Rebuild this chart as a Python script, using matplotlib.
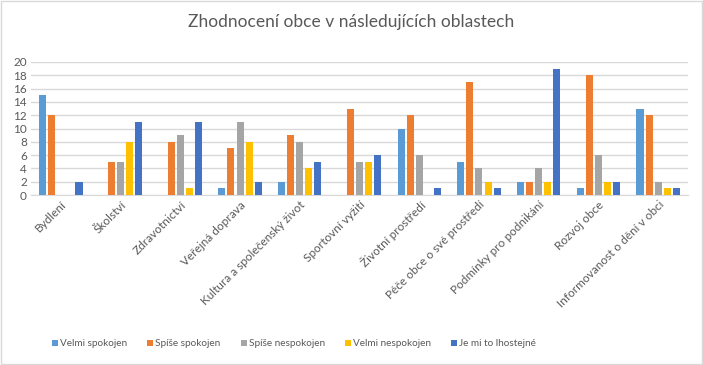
import numpy as np
import matplotlib.pyplot as plt

plt.rcParams["font.family"] = ["Lato", "DejaVu Sans"]

categories = [
    "Bydlení", "Školství", "Zdravotnictví", "Veřejná doprava",
    "Kultura a společenský život", "Sportovní vyžití", "Životní prostředí",
    "Péče obce o své prostředí", "Podmínky pro podnikání", "Rozvoj obce",
    "Informovanost o dění v obci",
]
series_names = ["Velmi spokojen", "Spíše spokojen", "Spíše nespokojen",
                "Velmi nespokojen", "Je mi to lhostejné"]
velmi_spokojen = [15, 0, 0, 1, 2, 0, 10, 5, 2, 1, 13]
spise_spokojen = [12, 5, 8, 7, 9, 13, 12, 17, 2, 18, 12]
spise_nespokojen = [0, 5, 9, 11, 8, 5, 6, 4, 4, 6, 2]
velmi_nespokojen = [0, 8, 1, 8, 4, 5, 0, 2, 2, 2, 1]
lhostejne = [2, 11, 11, 2, 5, 6, 1, 1, 19, 2, 1]

colors = ["#5B9BD5", "#ED7D31", "#A5A5A5", "#FFC000", "#4472C4"]
text_col = "#595959"

fig = plt.figure(figsize=(7.03, 3.65), dpi=100)
ax = fig.add_axes([31 / 703, 1 - 195 / 365, 657 / 703, 133 / 365])

x = np.arange(len(categories))
step = 0.152
width = 0.118
data = [velmi_spokojen, spise_spokojen, spise_nespokojen, velmi_nespokojen, lhostejne]
for i, (name, vals) in enumerate(zip(series_names, data)):
    ax.bar(x + (i - 2) * step, vals, width, color=colors[i], label=name, zorder=3)

ax.set_xlim(-0.5, len(categories) - 0.5)
ax.set_ylim(0, 20)
ax.set_yticks(range(0, 21, 2))
ax.yaxis.grid(True, color="#D9D9D9", linewidth=1, zorder=0)
for s in ["top", "right", "left"]:
    ax.spines[s].set_visible(False)
ax.spines["bottom"].set_color("#D9D9D9")
ax.tick_params(axis="both", length=0, labelsize=8.5, colors=text_col, pad=3)
ax.set_xticks(x)
ax.set_xticklabels(categories, rotation=45, ha="right", rotation_mode="anchor")

fig.text(0.5, 1 - 22 / 365, "Zhodnocení obce v následujících oblastech",
         ha="center", va="center", fontsize=12.5, color=text_col)

fig.legend(loc="center", bbox_to_anchor=(0.418, 1 - 344 / 365), ncol=5,
           frameon=False, fontsize=7.2, handlelength=0.6, handleheight=0.6,
           handletextpad=0.2, columnspacing=2.0, labelcolor=text_col)

fig.patches.append(plt.Rectangle((0.001, 0.002), 0.997, 0.996, transform=fig.transFigure,
                                 fill=False, edgecolor="#D9D9D9", linewidth=1))

fig.savefig("out.png", dpi=100)
